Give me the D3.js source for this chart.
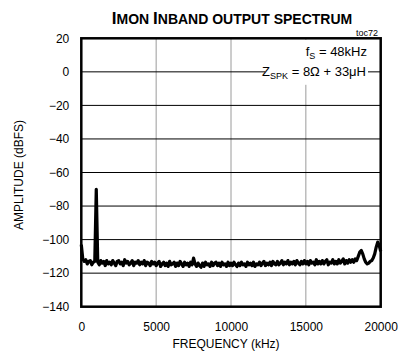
<!DOCTYPE html>
<html><head><meta charset="utf-8">
<script src="https://cdn.jsdelivr.net/npm/d3@7"></script>
<style>
html,body{margin:0;padding:0;background:#fff;}
svg{display:block;font-family:"Liberation Sans",Arial,sans-serif;}
</style></head>
<body><svg id="c" width="405" height="356"></svg>
<script>
const xTicks = [0, 5000, 10000, 15000, 20000];
const yTicks = [20, 0, -20, -40, -60, -80, -100, -120, -140];
const freqKHz = [0, 100, 200, 300, 400, 500, 600, 700, 800, 900, 1000,
  1100, 1200, 1300, 1400, 1500, 1600, 1700, 1800, 1900, 2000,
  2100, 2200, 2300, 2400, 2500, 2600, 2700, 2800, 2900, 3000,
  3100, 3200, 3300, 3400, 3500, 3600, 3700, 3800, 3900, 4000,
  4100, 4200, 4300, 4400, 4500, 4600, 4700, 4800, 4900, 5000,
  5100, 5200, 5300, 5400, 5500, 5600, 5700, 5800, 5900, 6000,
  6100, 6200, 6300, 6400, 6500, 6600, 6700, 6800, 6900, 7000,
  7100, 7200, 7300, 7400, 7500, 7600, 7700, 7800, 7900, 8000,
  8100, 8200, 8300, 8400, 8500, 8600, 8700, 8800, 8900, 9000,
  9100, 9200, 9300, 9400, 9500, 9600, 9700, 9800, 9900, 10000,
  10100, 10200, 10300, 10400, 10500, 10600, 10700, 10800, 10900, 11000,
  11100, 11200, 11300, 11400, 11500, 11600, 11700, 11800, 11900, 12000,
  12100, 12200, 12300, 12400, 12500, 12600, 12700, 12800, 12900, 13000,
  13100, 13200, 13300, 13400, 13500, 13600, 13700, 13800, 13900, 14000,
  14100, 14200, 14300, 14400, 14500, 14600, 14700, 14800, 14900, 15000,
  15100, 15200, 15300, 15400, 15500, 15600, 15700, 15800, 15900, 16000,
  16100, 16200, 16300, 16400, 16500, 16600, 16700, 16800, 16900, 17000,
  17100, 17200, 17300, 17400, 17500, 17600, 17700, 17800, 17900, 18000,
  18100, 18200, 18300, 18400, 18500, 18600, 18700, 18800, 18900, 19000,
  19100, 19200, 19300, 19400, 19500, 19600, 19700, 19800, 19900, 20000];
const amplitudeDBFS = [-103, -111.5, -113, -112, -114.5, -113, -112.5, -115, -113.5, -113, -70,
  -113.5, -115, -112.5, -114, -113, -115.5, -112.5, -114.5, -113.5, -115,
  -112.5, -114, -115.5, -113, -112.5, -114.5, -113.5, -115.5, -112, -114,
  -113, -115, -114, -112.5, -115.5, -113.5, -114, -112.5, -115, -113.5,
  -114.5, -112.5, -115.5, -113.5, -114, -115.5, -113, -114.5, -113.5, -115.5,
  -114, -113, -116, -114.5, -113.5, -115.5, -114, -116, -113, -115,
  -114.5, -113.5, -116, -114, -115.5, -113, -114.5, -116, -113.5, -115,
  -114, -116, -113.5, -115, -111, -114.5, -116, -114, -115.5, -116.5,
  -114, -116, -113.5, -115, -114.5, -116, -113.5, -115.5, -114, -113.5,
  -115.5, -114, -116, -113.5, -115, -114.5, -116, -113.5, -115.5, -114,
  -115.5, -113.5, -115, -116, -114, -115.5, -113.5, -115, -114.5, -116,
  -113.5, -115, -114, -115.5, -113.5, -116, -114.5, -115, -113.5, -115.5,
  -114, -113, -115.5, -114, -115, -113.5, -115.5, -113, -114.5, -115,
  -113, -115, -114, -112.5, -115, -113.5, -114.5, -112.5, -115, -113.5,
  -114.5, -113, -115, -112.5, -114, -115, -113, -114.5, -112.5, -114.5,
  -113, -115, -112.5, -114, -113.5, -115, -112, -114.5, -113, -114.5,
  -112.5, -114.5, -113, -112, -115, -113.5, -114, -112, -114.5, -113,
  -114.5, -112, -114, -113, -111.5, -114.5, -112.5, -114, -112, -113.5,
  -112, -113.5, -111.5, -112.5, -110, -107.5, -106.5, -108.5, -111.5, -113.5,
  -114.5, -114, -113, -112.5, -111, -108.5, -104.5, -101.5, -103.5, -107];

const svg = d3.select("#c");
const L = 81.3, R = 380.7, T = 38.3, B = 306.7;
const x = d3.scaleLinear().domain([0, 20000]).range([L, R]);
const y = d3.scaleLinear().domain([-140, 20]).range([B, T]);

// vertical grid (gray)
svg.append("g").selectAll("line").data(xTicks.slice(1, -1)).join("line")
  .attr("x1", d => x(d)).attr("x2", d => x(d)).attr("y1", T).attr("y2", B)
  .attr("stroke", "#9a9a9a").attr("stroke-width", 1);
// horizontal grid (black)
svg.append("g").selectAll("line").data(yTicks.slice(1, -1)).join("line")
  .attr("x1", L).attr("x2", R).attr("y1", d => y(d)).attr("y2", d => y(d))
  .attr("stroke", "#000").attr("stroke-width", 1);

// annotation background
svg.append("rect").attr("x", 265).attr("y", T + 1.5).attr("width", 103).attr("height", 45)
  .attr("fill", "#fff");

const pts = freqKHz.map((f, i) => [f, amplitudeDBFS[i]]);
svg.append("path").datum(pts)
  .attr("d", d3.line().x(d => x(d[0])).y(d => y(d[1])))
  .attr("fill", "none").attr("stroke", "#000").attr("stroke-width", 3.2)
  .attr("stroke-linejoin", "round");

// frame
svg.append("rect").attr("x", L).attr("y", T).attr("width", R - L).attr("height", B - T)
  .attr("fill", "none").attr("stroke", "#000").attr("stroke-width", 2.5);

// axes
const ax = svg.append("g").attr("transform", `translate(0,${B})`)
  .call(d3.axisBottom(x).tickValues(xTicks).tickSize(0).tickPadding(15.5).tickFormat(d3.format("d")));
ax.select(".domain").remove();
ax.selectAll("text").attr("font-size", 12).attr("font-family", "Liberation Sans, Arial, sans-serif").attr("fill", "#000");
const ay = svg.append("g").attr("transform", `translate(${L},0)`)
  .call(d3.axisLeft(y).tickValues(yTicks).tickSize(0).tickPadding(12).tickFormat(d3.format("d")));
ay.select(".domain").remove();
ay.selectAll("text").attr("font-size", 12).attr("font-family", "Liberation Sans, Arial, sans-serif").attr("fill", "#000");

// titles
const t = svg.append("text").attr("x", 232).attr("y", 24).attr("text-anchor", "middle")
  .attr("font-weight", "bold").attr("font-size", 14);
t.append("tspan").attr("font-size", 17).text("I");
t.append("tspan").text("MON ");
t.append("tspan").attr("font-size", 17).text("I");
t.append("tspan").text("NBAND OUTPUT SPECTRUM");

svg.append("text").attr("x", 226).attr("y", 348).attr("text-anchor", "middle")
  .attr("font-size", 12).text("FREQUENCY (kHz)");
svg.append("text").attr("transform", "translate(22.5,175) rotate(-90)").attr("text-anchor", "middle")
  .attr("font-size", 12).text("AMPLITUDE (dBFS)");

svg.append("text").attr("x", 378).attr("y", 36).attr("text-anchor", "end")
  .attr("font-size", 9).text("toc72");
const a1 = svg.append("text").attr("x", 367).attr("y", 56).attr("text-anchor", "end").attr("font-size", 13);
a1.append("tspan").text("f");
a1.append("tspan").attr("font-size", 9).attr("dy", 3).text("S");
a1.append("tspan").attr("dy", -3).text(" = 48kHz");
const a2 = svg.append("text").attr("x", 366).attr("y", 75.5).attr("text-anchor", "end").attr("font-size", 13);
a2.append("tspan").text("Z");
a2.append("tspan").attr("font-size", 9).attr("dy", 3).text("SPK");
a2.append("tspan").attr("dy", -3).text(" = 8Ω + 33μH");
</script></body></html>
